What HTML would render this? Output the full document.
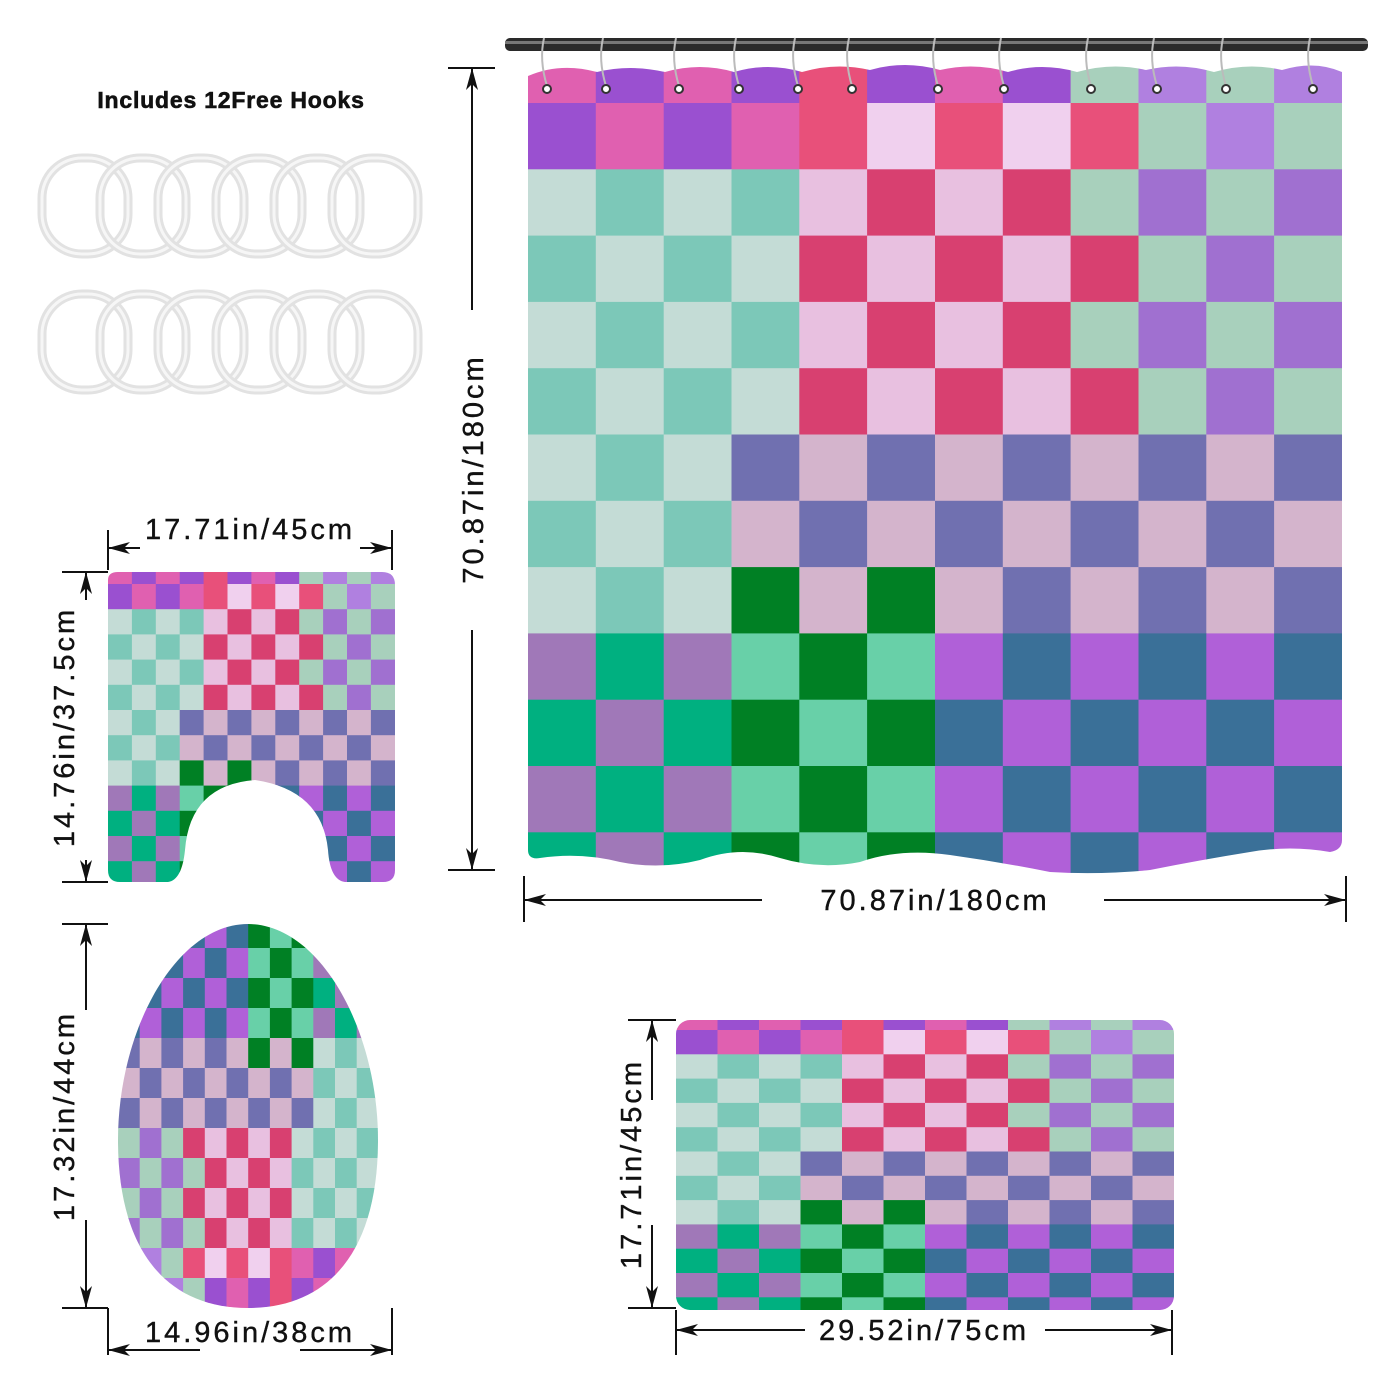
<!DOCTYPE html>
<html><head><meta charset="utf-8"><style>
html,body{margin:0;padding:0;background:#fff;}
svg{display:block;}
text{font-family:"Liberation Sans",sans-serif;fill:#111;}
</style></head><body>
<svg id="s" width="1400" height="1400" viewBox="0 0 1400 1400" xmlns="http://www.w3.org/2000/svg">
<defs>
<clipPath id="cCurt"><path d="M528,76 Q560,62 597,72 Q630,64 665,72 Q700,62 734,72 Q768,62 802,72 Q836,62 870,70 Q905,60 940,70 Q975,62 1008,72 Q1042,62 1077,72 Q1112,62 1146,70 Q1180,62 1214,72 Q1248,62 1282,70 Q1315,60 1342,72 L1342,840 Q1342,850 1330,852 Q1290,845 1250,852 Q1200,860 1150,870 Q1100,875 1050,872 Q1000,862 950,855 Q900,848 860,862 Q820,870 780,858 Q740,845 700,860 Q660,870 620,862 Q580,852 540,858 Q528,860 528,850 Z"/></clipPath>
<clipPath id="cMat"><path d="M108,580 Q108,572 118,572 L382,572 Q395,572 395,585 L395,870 Q395,882 383,882 L345,882 Q330,880 328,850 Q322,790 255,780 Q190,785 185,850 Q182,880 168,882 L120,882 Q108,882 108,870 Z"/></clipPath>
<clipPath id="cBath"><rect x="676" y="1020" width="498" height="290" rx="14"/></clipPath>
<clipPath id="cLid"><path d="M248,924 C320,924 378,1030 378,1140 C378,1250 330,1308 248,1308 C166,1308 118,1250 118,1140 C118,1030 176,924 248,924 Z"/></clipPath>
</defs>
<g id="g"></g>
</svg>
<script>
var P='#e060b0',U='#9a50d0',C='#e8507a',L='#f0d0ee',S='#a8d0bc',V='#b080e0',
G='#c4dcd6',T='#7cc8b8',R='#d84070',K='#e8c0e0',A='#a070d0',
B='#7070b0',M='#d4b4cc',N='#008024',Vi='#a078b8',E='#00b080',Mi='#68d0a8',Pu='#b060d8',St='#3a7098';
var grid=[
[P,U,P,U,C,U,P,U,S,V,S,V],
[U,P,U,P,C,L,C,L,C,S,V,S],
[G,T,G,T,K,R,K,R,S,A,S,A],
[T,G,T,G,R,K,R,K,R,S,A,S],
[G,T,G,T,K,R,K,R,S,A,S,A],
[T,G,T,G,R,K,R,K,R,S,A,S],
[G,T,G,B,M,B,M,B,M,B,M,B],
[T,G,T,M,B,M,B,M,B,M,B,M],
[G,T,G,N,M,N,M,B,M,B,M,B],
[Vi,E,Vi,Mi,N,Mi,Pu,St,Pu,St,Pu,St],
[E,Vi,E,N,Mi,N,St,Pu,St,Pu,St,Pu],
[Vi,E,Vi,Mi,N,Mi,Pu,St,Pu,St,Pu,St],
[E,Vi,E,N,Mi,N,St,Pu,St,Pu,St,Pu]];
var h='';
function draw(x0,y0,cw,topH,rh,clip,rot){
  h+='<g clip-path="url(#'+clip+')">';
  for(var r=0;r<13;r++)for(var c=0;c<12;c++){
    var rr=rot?12-r:r,cc=rot?11-c:c;
    var y=r==0?y0:y0+topH+(r-1)*rh, hh=r==0?topH:rh;
    h+='<rect x="'+(x0+c*cw).toFixed(1)+'" y="'+y.toFixed(1)+'" width="'+(cw+0.6).toFixed(1)+'" height="'+(hh+0.6).toFixed(1)+'" fill="'+grid[rr][cc]+'"/>';
  }
  h+='</g>';
}
draw(528,60,67.83,43,66.3,'cCurt',false);
draw(108,572,23.9,12,25.2,'cMat',false);
draw(676,1020,41.5,10,24.3,'cBath',false);
draw(118,924,21.7,24,30,'cLid',true);
h+='<rect x="505" y="38" width="863" height="13" rx="5" fill="#2a2a2a"/><rect x="505" y="41" width="863" height="3" fill="#777"/>';
[547,606,679,739,798,852,938,1004,1091,1157,1226,1313].forEach(function(x){
  h+='<path d="M'+(x-3)+',38 Q'+(x-8)+',60 '+x+',86" stroke="#bbb" stroke-width="2" fill="none"/><circle cx="'+x+'" cy="89" r="4" fill="#fff" stroke="#333" stroke-width="2"/>';
});
for(var row=0;row<2;row++)for(var i=0;i<6;i++){
  var cx=85+i*58,cy=row?342:206;
  h+='<rect x="'+(cx-43)+'" y="'+(cy-48)+'" width="86" height="96" rx="40" fill="none" stroke="#e2e2e2" stroke-width="9"/><rect x="'+(cx-43)+'" y="'+(cy-48)+'" width="86" height="96" rx="40" fill="none" stroke="#f6f6f6" stroke-width="3"/>';
}
h+='<text x="231" y="108" font-size="23" font-weight="900" text-anchor="middle" letter-spacing="0.8" stroke="#111" stroke-width="0.6">Includes 12Free Hooks</text>';
function ah(x,y,dir){
  var d={l:[[0,0],[22,-6],[16,0],[22,6]],r:[[0,0],[-22,-6],[-16,0],[-22,6]],u:[[0,0],[-6,22],[0,16],[6,22]],d:[[0,0],[-6,-22],[0,-16],[6,-22]]}[dir];
  h+='<polygon points="'+d.map(function(p){return (x+p[0])+','+(y+p[1]);}).join(' ')+'" fill="#111"/>';
}
function ln(a,b,c,d){h+='<line x1="'+a+'" y1="'+b+'" x2="'+c+'" y2="'+d+'" stroke="#111" stroke-width="2"/>';}
function hdim(x1,x2,y,t1,t2,g1,g2,txt,ty){
  ln(x1,t1,x1,t2);ln(x2,t1,x2,t2);ln(x1,y,g1,y);ln(g2,y,x2,y);ah(x1,y,'l');ah(x2,y,'r');
  h+='<text x="'+((x1+x2)/2)+'" y="'+ty+'" font-size="29" text-anchor="middle" letter-spacing="3" stroke="#111" stroke-width="0.4">'+txt+'</text>';
}
function vdim(x,y1,y2,t1,t2,g1,g2,txt,tx){
  ln(t1,y1,t2,y1);ln(t1,y2,t2,y2);ln(x,y1,x,g1);ln(x,g2,x,y2);ah(x,y1,'u');ah(x,y2,'d');
  var cy=(y1+y2)/2;
  h+='<text x="'+tx+'" y="'+cy+'" font-size="29" text-anchor="middle" letter-spacing="3" stroke="#111" stroke-width="0.4" transform="rotate(-90 '+tx+' '+cy+')">'+txt+'</text>';
}
vdim(472,68,870,448,495,310,630,'70.87in/180cm',483);
hdim(524,1346,900,876,922,762,1104,'70.87in/180cm',910);
hdim(108,392,548,530,570,140,360,'17.71in/45cm',539);
vdim(86,572,882,62,108,600,860,'14.76in/37.5cm',74);
vdim(86,924,1308,62,108,1010,1220,'17.32in/44cm',74);
hdim(108,392,1350,1308,1355,200,300,'14.96in/38cm',1342);
vdim(652,1020,1308,628,676,1100,1225,'17.71in/45cm',641);
hdim(676,1172,1330,1310,1355,805,1045,'29.52in/75cm',1340);
document.getElementById('g').innerHTML=h;
</script>
</body></html>
